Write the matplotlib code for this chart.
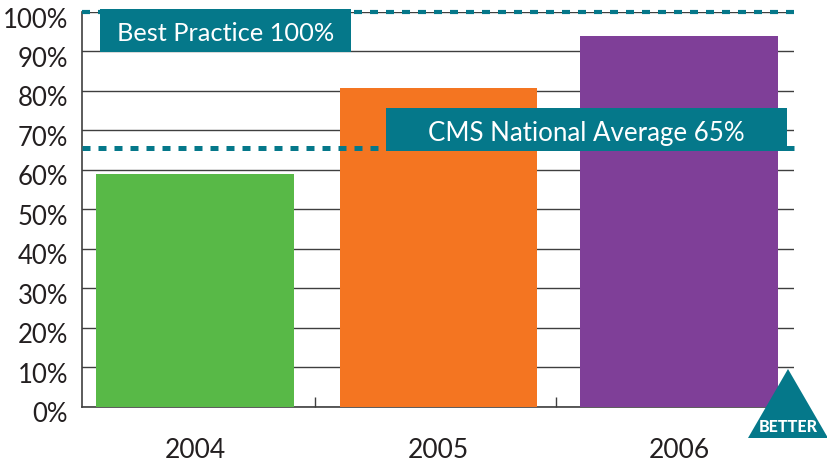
import matplotlib
matplotlib.use("Agg")
import matplotlib.pyplot as plt
from matplotlib.patches import Rectangle, Polygon
from matplotlib.transforms import Affine2D, ScaledTranslation

plt.rcParams['font.family'] = ['Lato', 'DejaVu Sans']
plt.rcParams['lines.scale_dashes'] = False

categories = ['2004', '2005', '2006']
positions = [0, 1.006, 2]
values = [59, 80.8, 94]
colors = ['#58b947', '#f47521', '#7f3f98']
yticks = [0, 10, 20, 30, 40, 50, 60, 70, 80, 90, 100]
best_practice = 100
cms_average = 65.5
label_best = 'Best Practice 100%'
label_cms = 'CMS National Average 65%'
TEAL = '#05788a'
W, H = 828, 463

fig = plt.figure(figsize=(W/100, H/100), dpi=100)
L, R, T, B = 82, 794, 12, 406.5
ax = fig.add_axes([L/W, 1-B/H, (R-L)/W, (B-T)/H])
ax.set_ylim(0, 100)
ax.set_xlim(-0.467, 2.475)

ax.bar(positions, values, width=0.816, color=colors, zorder=3)

ax.set_yticks(yticks)
ax.set_yticklabels([f'{v}%' for v in yticks], fontsize=18.5, color='#231f20')
ax.yaxis.grid(True, color='#3f3f3f', lw=1.0, zorder=1)
ax.set_axisbelow(True)
ax.tick_params(axis='y', length=0, pad=10)
shift = ScaledTranslation(0, -4/72, fig.dpi_scale_trans)
for lab in ax.get_yticklabels():
    lab.set_transform(lab.get_transform() + shift)
ax.set_xticks(positions)
ax.set_xticklabels(categories, fontsize=19, color='#231f20')
ax.tick_params(axis='x', length=0, pad=23)
ax.set_xticks([0.496, 1.49], minor=True)
ax.tick_params(axis='x', which='minor', direction='in', length=7, width=1, color='#3f3f3f')

for s in ('top', 'right'):
    ax.spines[s].set_visible(False)
for s in ('left', 'bottom'):
    ax.spines[s].set_color('#3f3f3f')
    ax.spines[s].set_linewidth(1.2)

for val, lw in ((best_practice, 3.0), (cms_average, 3.6)):
    ax.axhline(val, color=TEAL, lw=lw, linestyle=(0, (5.76, 5.76)),
               dash_capstyle='butt', zorder=4, clip_on=False)

px = Affine2D().scale(1, -1).translate(0, H)
def box(x0, y0, x1, y1, text, fs, dy):
    fig.add_artist(Rectangle((x0, y0), x1-x0, y1-y0, transform=px, color=TEAL, lw=0, zorder=5))
    fig.text((x0+x1)/2/W, 1-((y0+y1)/2+dy)/H, text, color='white', fontsize=fs,
             ha='center', va='center', zorder=6)

box(100, 9, 351, 52, label_best, 18.3, 3)
box(386, 108, 787, 151, label_cms, 18.6, 4)

fig.add_artist(Polygon([(788, 369), (748, 438), (828, 438)], transform=px,
                       color=TEAL, lw=0, zorder=7))
fig.text(788.5/W, 1-426.5/H, 'BETTER', color='white', fontsize=11.5, fontweight='black',
         ha='center', va='center', zorder=8)

fig.savefig('out.png', dpi=100)
